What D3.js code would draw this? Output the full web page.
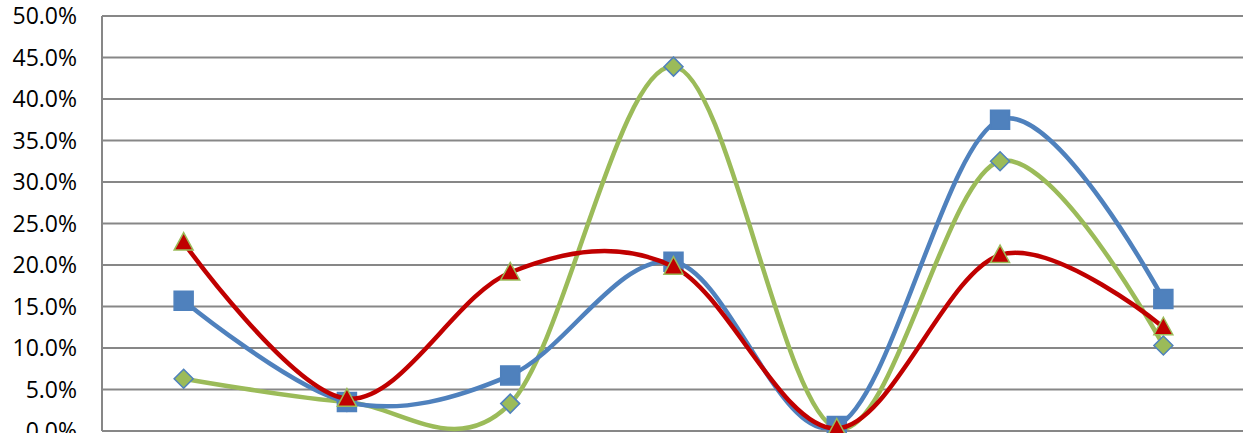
<!DOCTYPE html>
<html lang="en">
<head>
    <meta charset="UTF-8">
    <title>Smoothed line chart</title>
    <script src="https://cdnjs.cloudflare.com/ajax/libs/d3/7.8.5/d3.min.js"></script>
    <style>
        html, body {
            margin: 0;
            padding: 0;
            background: #ffffff;
            overflow: hidden;
        }
        .tick-label {
            font-family: "Open Sans", sans-serif;
            font-size: 23px;
            fill: #000;
        }
    </style>
</head>
<body>
    <div id="chart"></div>
    <script>
        const categories = ["1", "2", "3", "4", "5", "6", "7"];
        const blueValues = [0.157, 0.035, 0.067, 0.204, 0.006, 0.375, 0.159];
        const greenValues = [0.063, 0.035, 0.033, 0.439, 0.003, 0.325, 0.103];
        const redValues = [0.227, 0.039, 0.191, 0.198, 0.003, 0.212, 0.125];
        const yTicks = [0, 0.05, 0.1, 0.15, 0.2, 0.25, 0.3, 0.35, 0.4, 0.45, 0.5];

        const width = 1243;
        const height = 433;
        const plot = { left: 102, right: 1245, top: 16, bottom: 431 };

        const svg = d3.select("#chart")
            .append("svg")
            .attr("width", width)
            .attr("height", height);

        const x = d3.scalePoint()
            .domain(categories)
            .range([plot.left, plot.right])
            .padding(0.5);

        const y = d3.scaleLinear()
            .domain([0, 0.5])
            .range([plot.bottom, plot.top]);

        // gridlines
        svg.append("g")
            .selectAll("line")
            .data(yTicks)
            .join("line")
            .attr("x1", plot.left)
            .attr("x2", plot.right)
            .attr("y1", d => y(d))
            .attr("y2", d => y(d))
            .attr("stroke", "#878787")
            .attr("stroke-width", 2);

        // y axis line
        svg.append("line")
            .attr("x1", plot.left)
            .attr("x2", plot.left)
            .attr("y1", plot.top)
            .attr("y2", plot.bottom)
            .attr("stroke", "#878787")
            .attr("stroke-width", 2);

        // tick labels
        const fmt = d3.format(".1%");
        svg.append("g")
            .selectAll("text")
            .data(yTicks)
            .join("text")
            .attr("class", "tick-label")
            .attr("x", 77)
            .attr("y", d => y(d))
            .attr("dy", "0.36em")
            .attr("text-anchor", "end")
            .text(d => fmt(d));

        const line = d3.line()
            .x((d, i) => x(categories[i]))
            .y(d => y(d))
            .curve(d3.curveCatmullRom.alpha(0));

        const series = [
            { values: greenValues, color: "#9BBB59", marker: "diamond", fill: "#9BBB59", stroke: "#4F81BD" },
            { values: blueValues, color: "#4F81BD", marker: "square", fill: "#4F81BD", stroke: "#4F81BD" },
            { values: redValues, color: "#C00000", marker: "triangle", fill: "#C00000", stroke: "#9BBB59" }
        ];

        const symbols = {
            diamond: "M0,-9.5L9.5,0L0,9.5L-9.5,0Z",
            square: "M-9.5,-9.5H9.5V9.5H-9.5Z",
            triangle: "M0,-10L9.5,7.5H-9.5Z"
        };

        series.forEach(s => {
            const g = svg.append("g");
            g.append("path")
                .attr("d", line(s.values))
                .attr("fill", "none")
                .attr("stroke", s.color)
                .attr("stroke-width", 4.5)
                .attr("stroke-linecap", "round");

            g.selectAll("path.marker")
                .data(s.values)
                .join("path")
                .attr("class", "marker")
                .attr("transform", (d, i) => `translate(${x(categories[i])},${y(d)})`)
                .attr("d", symbols[s.marker])
                .attr("fill", s.fill)
                .attr("stroke", s.stroke)
                .attr("stroke-width", 1.5);
        });
    </script>
</body>
</html>
